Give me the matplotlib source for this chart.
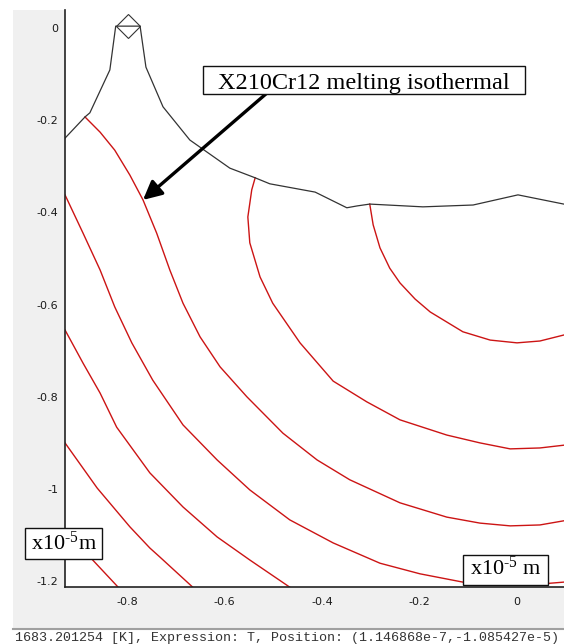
#!/usr/bin/env python3
"""
Isotermas de temperatura (X210Cr12) sobre la sección del baño fundido.
"""
import matplotlib
matplotlib.use("Agg")
import matplotlib.pyplot as plt
from matplotlib.patches import Rectangle
from matplotlib.lines import Line2D

W, H = 564, 644

plt.rcParams['axes.unicode_minus'] = False
plt.rcParams['mathtext.fontset'] = 'custom'
plt.rcParams['mathtext.rm'] = 'Liberation Serif'
plt.rcParams['mathtext.it'] = 'Liberation Serif:italic'

# superficie libre (contorno negro), unidades x1e-5 m
surf_x = [-0.927, -0.886, -0.876, -0.835, -0.823, -0.773, -0.761, -0.726, -0.671, -0.589,
          -0.537, -0.507, -0.414, -0.349, -0.328, -0.302, -0.193, -0.090, 0.002, 0.096]
surf_y = [-0.239, -0.193, -0.184, -0.091, 0.004, 0.004, -0.085, -0.171, -0.243, -0.304,
          -0.325, -0.338, -0.356, -0.390, -0.386, -0.382, -0.388, -0.384, -0.362, -0.382]
peak_x, peak_y = -0.798, 0.004

# isoterma de fusion
iso_x = [-0.886, -0.855, -0.825, -0.794, -0.767, -0.739, -0.712, -0.685, -0.650, -0.609,
         -0.554, -0.480, -0.410, -0.343, -0.240, -0.144, -0.076, -0.014, 0.047, 0.096]
iso_y = [-0.193, -0.226, -0.265, -0.319, -0.373, -0.445, -0.525, -0.597, -0.670, -0.735,
         -0.800, -0.879, -0.937, -0.980, -1.030, -1.061, -1.074, -1.080, -1.078, -1.069]

# resto de isotermas
c_inner_x = [-0.302, -0.295, -0.281, -0.261, -0.240, -0.209, -0.178, -0.111, -0.055, 0.000, 0.047, 0.096]
c_inner_y = [-0.382, -0.427, -0.477, -0.521, -0.553, -0.588, -0.616, -0.659, -0.677, -0.683, -0.679, -0.666]

c_mid_x = [-0.537, -0.544, -0.552, -0.548, -0.527, -0.501, -0.445, -0.377, -0.308, -0.240,
           -0.144, -0.076, -0.014, 0.047, 0.096]
c_mid_y = [-0.325, -0.351, -0.410, -0.466, -0.540, -0.597, -0.683, -0.766, -0.811, -0.850,
           -0.883, -0.900, -0.913, -0.911, -0.905]

c_b_x = [-0.927, -0.890, -0.855, -0.825, -0.790, -0.747, -0.685, -0.615, -0.548, -0.466,
         -0.377, -0.281, -0.199, -0.111, -0.035, 0.027, 0.096]
c_b_y = [-0.362, -0.445, -0.525, -0.605, -0.683, -0.764, -0.861, -0.937, -1.002, -1.067,
         -1.117, -1.161, -1.184, -1.202, -1.208, -1.208, -1.202]

c_4_x = [-0.927, -0.890, -0.855, -0.821, -0.753, -0.685, -0.615, -0.548, -0.466, -0.435]
c_4_y = [-0.655, -0.727, -0.792, -0.866, -0.965, -1.039, -1.104, -1.154, -1.213, -1.232]

c_5_x = [-0.927, -0.861, -0.794, -0.753, -0.732, -0.665, -0.644]
c_5_y = [-0.900, -0.998, -1.082, -1.128, -1.148, -1.213, -1.232]

c_6_x = [-0.927, -0.897, -0.872, -0.818, -0.800]
c_6_y = [-1.089, -1.124, -1.152, -1.213, -1.232]

xticks = [-0.8, -0.6, -0.4, -0.2, 0]
xtick_labels = ['-0.8', '-0.6', '-0.4', '-0.2', '0']
yticks = [0, -0.2, -0.4, -0.6, -0.8, -1.0, -1.2]
ytick_labels = ['0', '-0.2', '-0.4', '-0.6', '-0.8', '-1', '-1.2']

status = "1683.201254 [K], Expression: T, Position: (1.146868e-7,-1.085427e-5)"


def fx(px):
    return px / W


def fy(py):
    return 1 - py / H


fig = plt.figure(figsize=(W / 100, H / 100), dpi=100, facecolor='white')

# panel gris de la ventana
fig.add_artist(Rectangle((fx(13), fy(628)), fx(W - 13), (628 - 10) / H,
                         transform=fig.transFigure, fc='#f0f0f0', ec='none', zorder=0))
fig.add_artist(Line2D([fx(13), 1], [fy(629), fy(629)], transform=fig.transFigure,
                      color='#a0a0a0', lw=1.5, zorder=1))

ax = fig.add_axes([fx(65), fy(587), fx(W - 65), (587 - 10) / H])
ax.set_facecolor('white')
ax.set_xlim(-0.927, 0.0964)
ax.set_ylim(-1.2126, 0.039)

red = '#cc1414'
for xs, ys in [(iso_x, iso_y), (c_inner_x, c_inner_y), (c_mid_x, c_mid_y),
               (c_b_x, c_b_y), (c_4_x, c_4_y), (c_5_x, c_5_y), (c_6_x, c_6_y)]:
    ax.plot(xs, ys, color=red, lw=1.0, solid_joinstyle='round')

ax.plot(surf_x, surf_y, color='#333333', lw=0.9)
ax.plot([peak_x], [peak_y], marker='D', ms=12, mfc='none', mec='#333333', mew=0.8)

for side in ['top', 'right']:
    ax.spines[side].set_visible(False)
for side in ['left', 'bottom']:
    ax.spines[side].set_color('#222222')
    ax.spines[side].set_linewidth(1.2)

ax.set_xticks(xticks)
ax.set_xticklabels(xtick_labels)
ax.set_yticks(yticks)
ax.set_yticklabels(ytick_labels)
ax.tick_params(axis='both', length=0, labelsize=8, colors='#1a1a1a')
ax.tick_params(axis='x', pad=7)
ax.tick_params(axis='y', pad=5)

# flecha y etiqueta
ax.annotate('', xy=(iso_x[4], iso_y[4]), xycoords='data',
            xytext=(fx(267), fy(93)), textcoords='figure fraction',
            arrowprops=dict(arrowstyle='-|>', color='black', lw=2.4,
                            mutation_scale=28, shrinkA=0, shrinkB=0), zorder=6)


def label_box(x1, y1, x2, y2, text, base, size):
    fig.add_artist(Rectangle((fx(x1), fy(y2)), (x2 - x1) / W, (y2 - y1) / H,
                             transform=fig.transFigure, fc='white', ec='#111111',
                             lw=1.0, zorder=7))
    fig.text(fx((x1 + x2) / 2), fy(base), text, ha='center', va='baseline',
             family='Liberation Serif', size=size, color='black', zorder=8)


label_box(203, 66, 525, 94, 'X210Cr12 melting isothermal', 89, 17.5)
label_box(25, 528, 102, 559, 'x10$^{\\rm \u20105}$m', 550, 16)
label_box(463, 555, 548, 585, 'x10$^{\\rm \u20105}$ m', 575, 16)

fig.text(fx(15), fy(641), status, family='Liberation Mono', size=9.6,
         color='#333333', va='baseline', ha='left')

fig.savefig('out.png', dpi=100, facecolor='white')
